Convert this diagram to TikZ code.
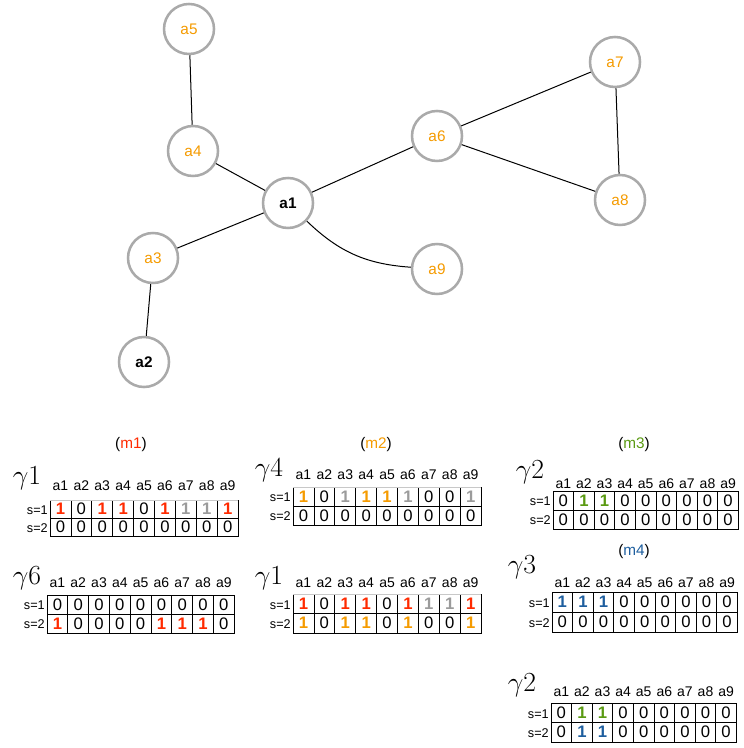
\documentclass[tikz,border=0pt]{standalone}
\usepackage{fontspec}
\setmainfont{Liberation Sans}
\definecolor{cOrange}{HTML}{F59B00}
\definecolor{cRed}{HTML}{FF2A00}
\definecolor{cGrayTxt}{HTML}{9B9B9B}
\definecolor{cGreen}{HTML}{5A9A12}
\definecolor{cBlue}{HTML}{1E5E9E}
\definecolor{cRing}{HTML}{AAAAAA}
\definecolor{cLine}{HTML}{C8C8C8}
\newcommand\oR{\textcolor{cRed}{\bfseries 1}}
\newcommand\oO{\textcolor{cOrange}{\bfseries 1}}
\newcommand\oG{\textcolor{cGrayTxt}{\bfseries 1}}
\newcommand\oN{\textcolor{cGreen}{\bfseries 1}}
\newcommand\oB{\textcolor{cBlue}{\bfseries 1}}
\tikzset{
  vertex/.style={circle,draw=cRing,line width=1.9pt,minimum size=37.5pt,inner sep=0pt,fill=white,
    font=\fontsize{11.5}{13}\selectfont},
  orangev/.style={vertex,text=cOrange},
  blackv/.style={vertex,font=\fontsize{11.5}{13}\selectfont\bfseries},
  edge/.style={line width=0.75pt,black},
  cellnum/.style={inner sep=0pt,font=\fontsize{12.5}{14}\selectfont},
  hdr/.style={inner sep=0pt,font=\fontsize{10.5}{12}\selectfont},
  slabel/.style={inner sep=0pt,anchor=east,font=\fontsize{9.5}{11}\selectfont},
  glabel/.style={inner sep=0pt,font=\fontsize{22}{24}\selectfont},
  mlabel/.style={inner sep=0pt,font=\fontsize{11.5}{13}\selectfont},
  gridl/.style={line width=0.6pt,black},
}
% #1 id, #2 x, #3 top y, #4 header y, #5 row h, #6 cell w, #7 row1, #8 row2, #9 top line colour
\newcommand\gtable[9]{%
  \foreach \i in {1,...,9} {\node[hdr] (#1-h\i) at ({#2+(\i-0.5)*#6},#4) {a\i};}
  \foreach \c [count=\i] in {#7} {\node[cellnum] (#1-p\i) at ({#2+(\i-0.5)*#6},{#3+0.5*#5}) {\c};}
  \foreach \c [count=\i] in {#8} {\node[cellnum] (#1-q\i) at ({#2+(\i-0.5)*#6},{#3+1.5*#5}) {\c};}
  \node[slabel] (#1-s1) at ({#2-2},{#3+0.5*#5+1}) {s=1};
  \node[slabel] (#1-s2) at ({#2-2},{#3+1.5*#5+1}) {s=2};
  \draw[gridl] (#2,#3) -- (#2,{#3+2*#5}) -- ({#2+9*#6},{#3+2*#5}) -- ({#2+9*#6},#3);
  \draw[gridl] (#2,{#3+#5}) -- ++({9*#6},0);
  \foreach \k in {1,...,8} {\draw[gridl] ({#2+\k*#6},#3) -- ++(0,{2*#5});}
  \draw[gridl,draw=#9] (#2,#3) -- ++({9*#6},0);
}
\begin{document}
\begin{tikzpicture}[x=0.75pt,y=-0.75pt]
\useasboundingbox (0,0) rectangle (743,748);
% graph
\node[orangev] (a5) at (189,29) {a5};
\node[orangev] (a4) at (193,151) {a4};
\node[blackv]  (a1) at (288,203) {a1};
\node[orangev] (a3) at (153,258) {a3};
\node[blackv]  (a2) at (144,362) {a2};
\node[orangev] (a6) at (437,136) {a6};
\node[orangev] (a9) at (437,269) {a9};
\node[orangev] (a7) at (615,62) {a7};
\node[orangev] (a8) at (620,200) {a8};
\draw[edge] (a5) -- (a4);
\draw[edge] (a4) -- (a1);
\draw[edge] (a1) -- (a3);
\draw[edge] (a3) -- (a2);
\draw[edge] (a1) -- (a6);
\draw[edge] (a1) to[bend right=20] (a9);
\draw[edge] (a6) -- (a7);
\draw[edge] (a6) -- (a8);
\draw[edge] (a7) -- (a8);
% labels
\node[mlabel] (m1) at (131,445) {(\textcolor{cRed}{m1})};
\node[mlabel] (m2) at (376,445) {(\textcolor{cOrange}{m2})};
\node[mlabel] (m3) at (634,445) {(\textcolor{cGreen}{m3})};
\node[mlabel] (m4) at (634,552) {(\textcolor{cBlue}{m4})};
% gamma labels
\node[glabel] (g1) at (27,478) {$\gamma1$};
\node[glabel] (g4) at (269,470) {$\gamma4$};
\node[glabel] (g2) at (530,472) {$\gamma2$};
\node[glabel] (g6) at (27,578) {$\gamma6$};
\node[glabel] (g1b) at (269,578) {$\gamma1$};
\node[glabel] (g3) at (522,567) {$\gamma3$};
\node[glabel] (g2b) at (522,685) {$\gamma2$};
% tables
\gtable{tA}{50}{500}{486}{18}{20.9}{\oR,0,\oR,\oR,0,\oR,\oG,\oG,\oR}{0,0,0,0,0,0,0,0,0}{cLine}
\gtable{tB}{293}{487}{475}{19}{20.9}{\oO,0,\oG,\oO,\oO,\oG,0,0,\oG}{0,0,0,0,0,0,0,0,0}{cLine}
\gtable{tC}{553}{491}{484}{19}{20.6}{0,\oN,\oN,0,0,0,0,0,0}{0,0,0,0,0,0,0,0,0}{black}
\gtable{tD}{47}{595}{583}{19}{20.8}{0,0,0,0,0,0,0,0,0}{\oR,0,0,0,0,\oR,\oR,\oR,0}{black}
\gtable{tE}{293}{594}{583}{19.5}{20.9}{\oR,0,\oR,\oR,0,\oR,\oG,\oG,\oR}{\oO,0,\oO,\oO,0,\oO,0,0,\oO}{cLine}
\gtable{tF}{552}{592}{583}{20}{20.6}{\oB,\oB,\oB,0,0,0,0,0,0}{0,0,0,0,0,0,0,0,0}{black}
\gtable{tG}{551}{703}{692}{19.5}{20.6}{0,\oN,\oN,0,0,0,0,0,0}{0,\oB,\oB,0,0,0,0,0,0}{black}
\end{tikzpicture}
\end{document}
